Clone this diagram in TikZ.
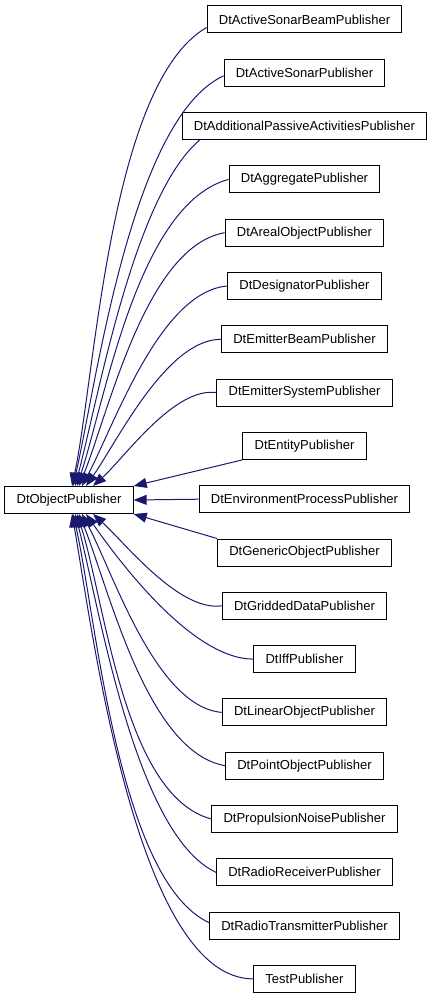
\documentclass[tikz,border=0pt]{standalone}
\usepackage{fontspec}
\setmainfont{Liberation Sans}
\usepackage{xcolor}
\definecolor{EDGECOLOR}{RGB}{25,25,112}
\usepackage{tikz}
\usetikzlibrary{arrows.meta,positioning}
\tikzset{
  class-style/.style = {
    rectangle, draw=black, line width=1pt, fill=white,
    minimum height=27pt,
    inner xsep=11.8pt, inner ysep=2pt,
    font=\fontsize{13}{15}\selectfont
  },
  child-style/.style = {
    class-style, below=25.3pt of #1
  },
  every edge/.style = {draw=EDGECOLOR, <-, >={Triangle[length=13pt,width=10pt]}, line width=1pt}
}

\begin{document}
\begin{tikzpicture}[x=1pt,y=1pt]
    \useasboundingbox (0,0) rectangle (435,-1000);

    %%% base class
    \node[class-style] (base) at (69,-500) {DtObjectPublisher};

    %%% derived classes
    \node[class-style] (beam) at (304.5,-19.5) {DtActiveSonarBeamPublisher};
    \node[child-style=beam] (sonar) {DtActiveSonarPublisher};
    \node[child-style=sonar] (passive) {DtAdditionalPassiveActivitiesPublisher};
    \node[child-style=passive] (aggregate) {DtAggregatePublisher};
    \node[child-style=aggregate] (areal) {DtArealObjectPublisher};
    \node[child-style=areal] (designator) {DtDesignatorPublisher};
    \node[child-style=designator] (emitbeam) {DtEmitterBeamPublisher};
    \node[child-style=emitbeam] (emitsys) {DtEmitterSystemPublisher};
    \node[child-style=emitsys] (entity) {DtEntityPublisher};
    \node[child-style=entity] (envproc) {DtEnvironmentProcessPublisher};
    \node[child-style=envproc] (generic) {DtGenericObjectPublisher};
    \node[child-style=generic] (gridded) {DtGriddedDataPublisher};
    \node[child-style=gridded] (iff) {DtIffPublisher};
    \node[child-style=iff] (linear) {DtLinearObjectPublisher};
    \node[child-style=linear] (point) {DtPointObjectPublisher};
    \node[child-style=point] (propnoise) {DtPropulsionNoisePublisher};
    \node[child-style=propnoise] (radiorx) {DtRadioReceiverPublisher};
    \node[child-style=radiorx] (radiotx) {DtRadioTransmitterPublisher};
    \node[child-style=radiotx] (test) {TestPublisher};

    %%% inheritance arrows, upper half
    \path ([xshift=3pt]base.north) edge[out=78,in=210,looseness=0.6] ([yshift=-8pt]beam.west);
    \path ([xshift=4pt]base.north) edge[out=77,in=205,looseness=0.6] ([yshift=-3pt]sonar.west);
    \path ([xshift=6pt]base.north) edge[out=75,in=220,looseness=0.6] ([xshift=18pt]passive.south west);
    \path ([xshift=8pt]base.north) edge[out=72,in=195,looseness=0.7] (aggregate.west);
    \path ([xshift=10pt]base.north) edge[out=68,in=190,looseness=0.7] (areal.west);
    \path ([xshift=13pt]base.north) edge[out=62,in=185,looseness=0.7] (designator.west);
    \path ([xshift=17pt]base.north) edge[out=55,in=180,looseness=0.7] (emitbeam.west);
    \path ([xshift=24pt]base.north) edge[out=42,in=172,looseness=0.7] (emitsys.west);
    \path (base.north east) edge (entity.south west);

    %%% middle
    \path (base.east) edge (envproc.west);

    %%% inheritance arrows, lower half
    \path (base.south east) edge (generic.north west);
    \path ([xshift=24pt]base.south) edge[out=-42,in=-172,looseness=0.7] (gridded.west);
    \path ([xshift=17pt]base.south) edge[out=-55,in=-180,looseness=0.7] (iff.west);
    \path ([xshift=13pt]base.south) edge[out=-62,in=-185,looseness=0.7] (linear.west);
    \path ([xshift=10pt]base.south) edge[out=-68,in=-190,looseness=0.7] (point.west);
    \path ([xshift=8pt]base.south) edge[out=-72,in=-195,looseness=0.7] (propnoise.west);
    \path ([xshift=6pt]base.south) edge[out=-75,in=-205,looseness=0.6] (radiorx.west);
    \path ([xshift=4pt]base.south) edge[out=-77,in=-205,looseness=0.6] ([yshift=3pt]radiotx.west);
    \path ([xshift=3pt]base.south) edge[out=-80,in=-180,looseness=0.6] (test.west);
\end{tikzpicture}
\end{document}
